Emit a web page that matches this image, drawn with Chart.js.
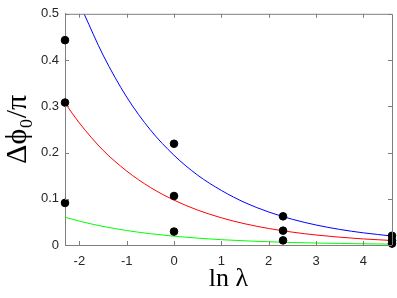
<!DOCTYPE html>
<html>
<head>
<meta charset="utf-8">
<script src="https://cdn.jsdelivr.net/npm/chart.js@4.4.1/dist/chart.umd.min.js"></script>
<style>
  html, body { margin: 0; padding: 0; background: #fff; }
  #wrap { width: 397px; height: 298px; }
</style>
</head>
<body>
<div id="wrap"><canvas id="phase-chart" width="397" height="298"></canvas></div>
<script>
// measured points (ln lambda = ln 0.1, ln 1, ln 10, ln 100)
var lnLambda = [-2.303, 0, 2.303, 4.605];
var pointsHigh = [0.443, 0.219, 0.062, 0.020];
var pointsMid = [0.308, 0.106, 0.031, 0.010];
var pointsLow = [0.091, 0.029, 0.010, 0.003];

// fitted curves
var fitX = [-2.303, -2, -1.5, -1, -0.5, 0, 0.5, 1, 1.5, 2, 2.5, 3, 3.5, 4, 4.605];
var blueX = [-1.9, -1.5, -1, -0.5, 0, 0.5, 1, 1.5, 2, 2.5, 3, 3.5, 4, 4.605];
var fitBlue = [0.50, 0.411, 0.320, 0.249, 0.194, 0.151, 0.118, 0.0916, 0.0714, 0.0556, 0.0433, 0.0337, 0.0263, 0.0194];
var fitRed = [0.307, 0.264, 0.205, 0.160, 0.1245, 0.097, 0.0755, 0.0588, 0.0458, 0.0357, 0.0278, 0.0216, 0.0169, 0.0131, 0.0097];
var fitGreen = [0.060, 0.0516, 0.0402, 0.0313, 0.0244, 0.019, 0.0148, 0.0115, 0.009, 0.007, 0.0054, 0.0042, 0.0033, 0.0026, 0.0019];

var xTicks = [-2, -1, 0, 1, 2, 3, 4];
var yTicks = [0, 0.1, 0.2, 0.3, 0.4, 0.5];

function pairs(xs, ys) {
  return ys.map(function(y, i) { return { x: xs[i], y: y }; });
}

function curve(xs, ys, color) {
  return {
    data: pairs(xs, ys),
    showLine: true,
    borderColor: color,
    borderWidth: 1,
    pointRadius: 0,
    cubicInterpolationMode: 'monotone',
    order: 2
  };
}

function dots(ys) {
  return {
    data: pairs(lnLambda, ys),
    showLine: false,
    backgroundColor: '#000',
    borderColor: '#000',
    pointRadius: 3.8,
    clip: false,
    order: 1
  };
}

var axisGray = '#7f7f7f';

// box round the plot + inward tick marks
var boxTicks = {
  id: 'boxTicks',
  afterDatasetsDraw: function(chart) {
    var ctx = chart.ctx, a = chart.chartArea;
    var xs = chart.scales.x, ys = chart.scales.y;
    ctx.save();
    ctx.strokeStyle = axisGray;
    ctx.lineWidth = 1;
    ctx.beginPath();
    ctx.moveTo(a.left, a.top + 0.5);
    ctx.lineTo(a.right + 0.5, a.top + 0.5);
    ctx.lineTo(a.right + 0.5, a.bottom);
    xTicks.forEach(function(v) {
      var px = Math.round(xs.getPixelForValue(v)) + 0.5;
      ctx.moveTo(px, a.bottom); ctx.lineTo(px, a.bottom - 4);
      ctx.moveTo(px, a.top); ctx.lineTo(px, a.top + 4);
    });
    yTicks.forEach(function(v) {
      var py = Math.round(ys.getPixelForValue(v)) + 0.5;
      ctx.moveTo(a.left, py); ctx.lineTo(a.left + 4, py);
      ctx.moveTo(a.right, py); ctx.lineTo(a.right - 4, py);
    });
    ctx.stroke();
    ctx.restore();
  }
};

new Chart("phase-chart", {
  type: "scatter",
  data: {
    datasets: [
      curve(blueX, fitBlue, '#0000ff'),
      curve(fitX, fitRed, '#ff0000'),
      curve(fitX, fitGreen, '#00ff00'),
      dots(pointsHigh),
      dots(pointsMid),
      dots(pointsLow)
    ]
  },
  options: {
    responsive: false,
    animation: false,
    layout: { padding: { top: 5, right: 4, left: 0, bottom: 0 } },
    plugins: {
      legend: { display: false },
      tooltip: { enabled: false }
    },
    scales: {
      x: {
        type: 'linear',
        min: -2.303,
        max: 4.605,
        afterBuildTicks: function(scale) {
          scale.ticks = xTicks.map(function(v) { return { value: v }; });
        },
        afterFit: function(scale) { scale.height = 53; },
        grid: { display: false, drawTicks: false },
        border: { display: true, color: axisGray },
        ticks: {
          padding: 9,
          color: '#262626',
          font: { family: 'Liberation Sans', size: 13 },
          callback: function(v) { return String(v); }
        },
        title: {
          display: true,
          text: 'ln λ',
          color: '#000',
          padding: { top: 0, bottom: 3 },
          font: { family: 'Liberation Serif', size: 26 }
        }
      },
      y: {
        type: 'linear',
        min: 0,
        max: 0.5,
        afterBuildTicks: function(scale) {
          scale.ticks = yTicks.map(function(v) { return { value: v }; });
        },
        afterFit: function(scale) { scale.width = 65; },
        grid: { display: false, drawTicks: false },
        border: { display: true, color: axisGray },
        ticks: {
          padding: 6,
          color: '#262626',
          font: { family: 'Liberation Sans', size: 13 },
          callback: function(v) { return String(v); }
        },
        title: {
          display: true,
          text: 'Δϕ₀/π',
          color: '#000',
          padding: { top: 0, bottom: 0 },
          font: { family: 'Liberation Serif', size: 30 }
        }
      }
    }
  },
  plugins: [boxTicks]
});
</script>
</body>
</html>
